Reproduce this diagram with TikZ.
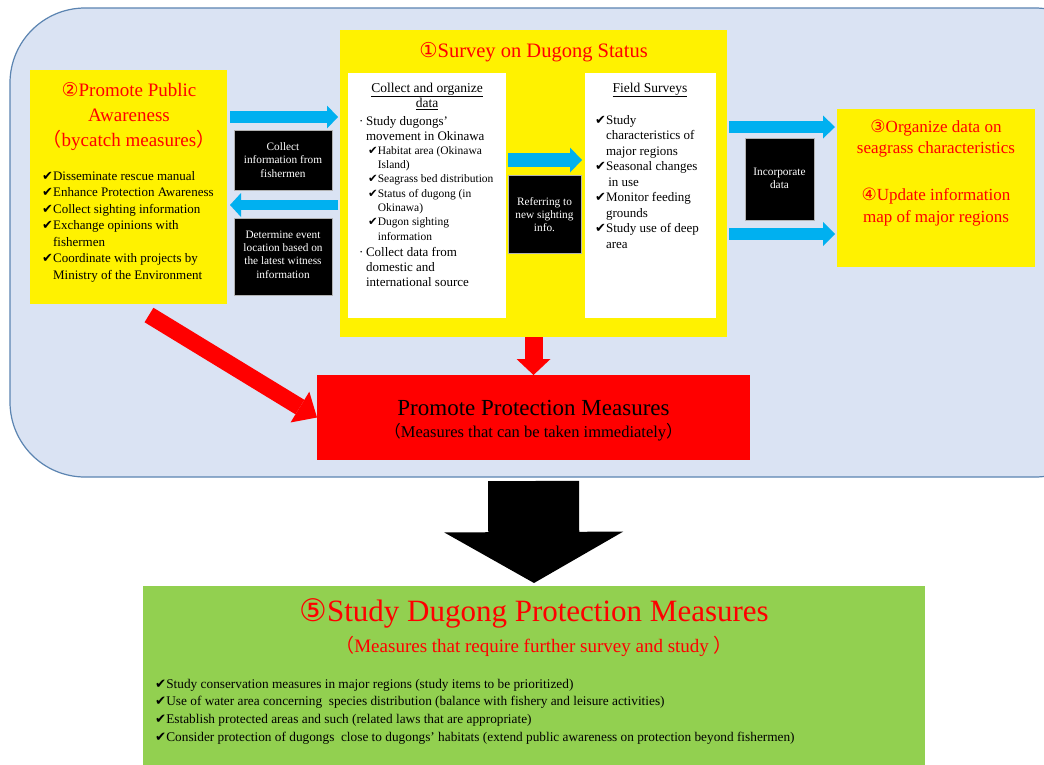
\documentclass[tikz,border=0pt]{standalone}
\usepackage{fontspec}
\setmainfont{Liberation Serif}
\newfontfamily\dv{DejaVu Sans}
\newfontfamily\cjk{Noto Sans CJK SC}
\usetikzlibrary{arrows.meta,calc}
\definecolor{bgblue}{HTML}{DAE3F3}
\definecolor{bgborder}{HTML}{5B84B1}
\definecolor{arrblue}{HTML}{00B0F0}
\definecolor{ygreen}{HTML}{92D050}
\newcommand\ck{{\dv ✔}}
\newcommand\ckk{\hphantom{\ck}}
\newcommand\dt{·\hspace{2.5pt}}
\newcommand\dtt{\hphantom{\dt}}
\newcommand\fs[2]{\fontsize{#1}{#2}\selectfont}
\newcommand\lp{{\cjk （}}
\newcommand\rp{{\cjk ）}}
\begin{document}
\begin{tikzpicture}[x=1pt,y=-1pt,
  box/.style={inner sep=0pt,outer sep=0pt,anchor=north west},
  blk/.style={box,fill=black,draw=gray!60,line width=0.6pt},
  txc/.style={inner sep=0pt,anchor=north,align=center},
  txl/.style={inner sep=0pt,anchor=north west,align=left},
  txb/.style={inner sep=0pt,anchor=base},
  wtxt/.style={txc,text=white,font=\fs{11.3}{13.3}},
  barrow/.style={draw=arrblue},
]
\useasboundingbox (0,0) rectangle (1044,764);
\fill[white] (0,0) rectangle (1044,764);
\clip (0,0) rectangle (1044,764);
% background panel
\draw[fill=bgblue,draw=bgborder,line width=1.2pt,rounded corners=75pt] (10,8) rectangle (1110,477);

% boxes
\node[box,fill=yellow,minimum width=197pt,minimum height=234pt] (aware) at (30,70) {};
\node[box,fill=yellow,minimum width=387pt,minimum height=307pt] (survey) at (340,30) {};
\node[box,fill=white,minimum width=158pt,minimum height=245pt] (collect) at (348,73) {};
\node[box,fill=white,minimum width=131pt,minimum height=245pt] (field) at (585,73) {};
\node[blk,minimum width=98pt,minimum height=60pt] (bk1) at (234,130) {};
\node[blk,minimum width=98pt,minimum height=77pt] (bk2) at (234,218) {};
\node[blk,minimum width=73pt,minimum height=78pt] (bk3) at (508,175) {};
\node[blk,minimum width=69pt,minimum height=82pt] (bk4) at (745,138) {};
\node[box,fill=yellow,minimum width=198pt,minimum height=158pt] (organize) at (837,109) {};
\node[box,fill=red,minimum width=433pt,minimum height=85pt] (promote) at (317,375) {};
\node[box,fill=ygreen,minimum width=782pt,minimum height=190pt] (study) at (143,586) {};

% rows for arrows
\coordinate (r117) at (0,117);
\coordinate (r205) at (0,205);
\coordinate (r160) at (0,160);
\coordinate (r127) at (0,127);
\coordinate (r234) at (0,234);
\coordinate (diagstart) at (149,315);

% blue arrows
\draw[barrow,line width=12pt,-{Triangle[length=11pt,width=23pt,line width=0pt]}]
  ($(aware.east|-r117)+(3,0)$) -- ($(survey.west|-r117)+(-2,0)$);
\draw[barrow,line width=10pt,-{Triangle[length=11pt,width=24pt,line width=0pt]}]
  ($(survey.west|-r205)+(-2,0)$) -- ($(aware.east|-r205)+(3,0)$);
\draw[barrow,line width=14pt,-{Triangle[length=12pt,width=25pt,line width=0pt]}]
  ($(collect.east|-r160)+(2,0)$) -- ($(field.west|-r160)+(-3,0)$);
\draw[barrow,line width=12pt,-{Triangle[length=12pt,width=23pt,line width=0pt]}]
  ($(survey.east|-r127)+(2,0)$) -- ($(organize.west|-r127)+(-2,0)$);
\draw[barrow,line width=12pt,-{Triangle[length=12pt,width=24pt,line width=0pt]}]
  ($(survey.east|-r234)+(2,0)$) -- ($(organize.west|-r234)+(-2,0)$);

% red arrows
\draw[red,line width=18pt,-{Triangle[length=16pt,width=34pt,line width=0pt]}]
  (survey.south) -- (promote.north);
\draw[red,line width=17pt,-{Triangle[length=20pt,width=36pt,line width=0pt]}]
  (diagstart) -- (promote.west);
% black arrow
\draw[black,line width=91pt,-{Triangle[length=51pt,width=179pt,line width=0pt]}]
  ($(promote.south)+(0,21)$) -- ($(study.north)+(0,-3)$);

% texts: awareness box
\node[txc,text=red,font=\fs{19}{25}] (awaretitle) at (129,78.5)
  {\strut{\dv ②}Promote Public\\Awareness\\\lp bycatch measures\rp};
\node[txl,font=\fs{13}{16.5}] (awarelist) at (42,168.45)
  {\strut\ck Disseminate rescue manual\\
   \ck Enhance Protection Awareness\\
   \ck Collect sighting information\\
   \ck Exchange opinions with\\
   \ckk fishermen\\
   \ck Coordinate with projects by\\
   \ckk Ministry of the Environment};

% survey title
\node[txb,text=red,font=\fs{20.5}{24}] (surveytitle) at (533.5,57) {{\dv ①}Survey on Dugong Status};

% collect box
\node[txc,font=\fs{13.5}{15}] (collecthead) at (427,81.5)
  {\strut\underline{Collect and organize}\\\underline{data}};
\node[txl,font=\fs{13}{15}] (collectA) at (359,114.5)
  {\strut\dt Study dugongs'\\\dtt movement in Okinawa};
\node[txl,font=\fs{11.5}{14.33}] (collectB) at (368,143.97)
  {\strut\ck Habitat area (Okinawa\\
   \ckk Island)\\
   \ck Seagrass bed distribution\\
   \ck Status of dugong (in\\
   \ckk Okinawa)\\
   \ck Dugon sighting\\
   \ckk information};
\node[txl,font=\fs{13}{15}] (collectC) at (359,245.5)
  {\strut\dt Collect data from\\\dtt domestic and\\\dtt international source};

% field box
\node[txb,font=\fs{13.5}{15}] (fieldhead) at (650,92) {\underline{Field Surveys}};
\node[txl,font=\fs{13}{15.5}] (fieldlist) at (595,113.15)
  {\strut\ck Study\\
   \ckk characteristics of\\
   \ckk major regions\\
   \ck Seasonal changes\\
   \ckk\,in use\\
   \ck Monitor feeding\\
   \ckk grounds\\
   \ck Study use of deep\\
   \ckk area};

% organize box
\node[txc,text=red,font=\fs{17}{21.5}] (organizetext) at (936,116.95)
  {\strut{\dv ③}Organize data on\\seagrass characteristics\\[25.5pt]
   {\dv ④}Update information\\map of major regions};

% black box texts
\node[wtxt] (bk1t) at (283,140.9) {\strut Collect\\information from\\fishermen};
\node[wtxt] (bk2t) at (283,228.7) {\strut Determine event\\location based on\\the latest witness\\information};
\node[wtxt] (bk3t) at (544.5,195.55) {\strut Referring to\\new sighting\\info.};
\node[wtxt] (bk4t) at (779.5,165.9) {\strut Incorporate\\data};

% promote box
\node[txb,font=\fs{23}{26}] (promotetitle) at (533.5,415) {Promote Protection Measures};
\node[txb,font=\fs{16.5}{19}] (promotesub) at (533.5,437) {\lp Measures that can be taken immediately\rp};

% study box
\node[txb,text=red,font=\fs{31}{34}] (studytitle) at (534,621) {{\dv ⑤}Study Dugong Protection Measures};
\node[txb,text=red,font=\fs{19}{22}] (studysub) at (534,652) {\lp Measures that require further survey and study \rp};
\node[txl,font=\fs{13.3}{17.67}] (studylist) at (155,675.6)
  {\strut\ck Study conservation measures in major regions (study items to be prioritized)\\
   \ck Use of water area concerning\ \ species distribution (balance with fishery and leisure activities)\\
   \ck Establish protected areas and such (related laws that are appropriate)\\
   \ck Consider protection of dugongs\ \ close to dugongs' habitats (extend public awareness on protection beyond fishermen)};
\end{tikzpicture}
\end{document}
